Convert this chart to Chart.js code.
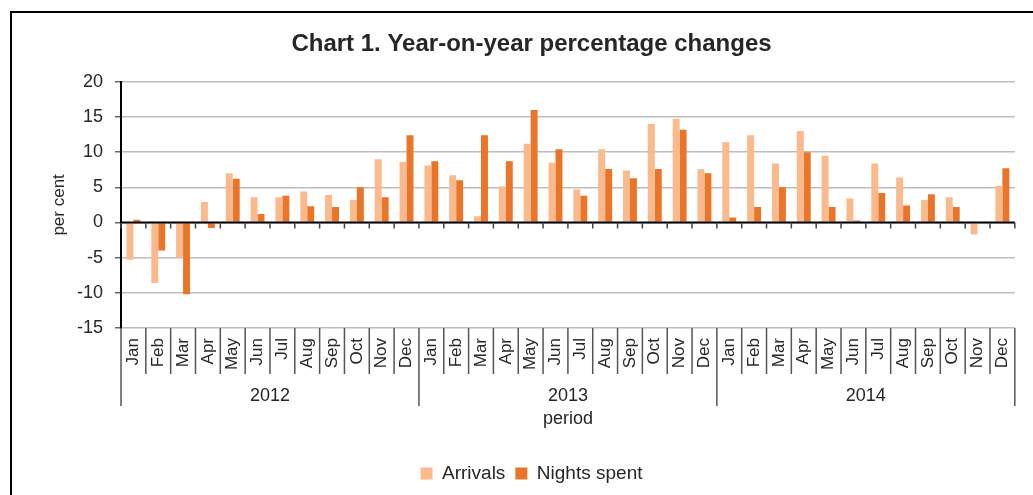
<!DOCTYPE html>
<html>
<head>
<meta charset="utf-8">
<script src="https://cdn.jsdelivr.net/npm/chart.js@4.4.1/dist/chart.umd.min.js"></script>
<style>
  html, body { margin: 0; padding: 0; background: #fff; overflow: hidden; }
  #frame { position: absolute; left: 10px; top: 11px; width: 1200px; height: 700px; border: 2px solid #000; }
  #wrap { position: absolute; left: 0; top: 0; width: 1033px; height: 495px; }
</style>
</head>
<body>
<div id="frame"></div>
<div id="wrap"><canvas id="chart"></canvas></div>
<script>
// data
const years = ['2012', '2013', '2014'];
const months = ['Jan', 'Feb', 'Mar', 'Apr', 'May', 'Jun', 'Jul', 'Aug', 'Sep', 'Oct', 'Nov', 'Dec'];
const arrivals = [
  -5.3, -8.6, -5.0, 2.9, 7.0, 3.6, 3.6, 4.4, 3.9, 3.2, 9.0, 8.6,
  8.1, 6.7, 0.9, 5.1, 11.2, 8.5, 4.7, 10.4, 7.4, 14.0, 14.7, 7.6,
  11.4, 12.4, 8.4, 13.0, 9.5, 3.4, 8.4, 6.4, 3.2, 3.6, -1.7, 5.2
];
const nightsSpent = [
  0.4, -4.0, -10.2, -0.8, 6.2, 1.2, 3.8, 2.3, 2.2, 5.0, 3.6, 12.4,
  8.7, 6.0, 12.4, 8.7, 16.0, 10.4, 3.8, 7.6, 6.3, 7.6, 13.2, 7.0,
  0.7, 2.2, 5.0, 10.0, 2.2, 0.3, 4.2, 2.4, 4.0, 2.2, 0, 7.7
];

const labels = years.flatMap(() => months);
const text_color = '#262626';
const fontFamily = '"Liberation Sans", Arial, sans-serif';

// draws the zero axis, the month/year separators and the year labels
const periodAxis = {
  id: 'periodAxis',
  afterDatasetsDraw(chart) {
    const ctx = chart.ctx;
    const x = chart.scales.x;
    const y = chart.scales.y;
    const n = labels.length;
    const catW = x.width / n;
    const edge = i => x.getPixelForValue(0) - catW / 2 + i * catW;
    const y0 = y.getPixelForValue(0);
    const bottom = chart.chartArea.bottom;

    ctx.save();
    // zero line with small ticks
    ctx.strokeStyle = '#000';
    ctx.lineWidth = 2;
    ctx.beginPath();
    ctx.moveTo(chart.chartArea.left, y0);
    ctx.lineTo(chart.chartArea.right, y0);
    ctx.stroke();
    ctx.strokeStyle = '#444';
    ctx.lineWidth = 1.5;
    ctx.beginPath();
    for (let i = 0; i <= n; i++) {
      ctx.moveTo(edge(i), y0);
      ctx.lineTo(edge(i), y0 + 6);
    }
    ctx.stroke();

    // separators below the plot
    ctx.strokeStyle = '#555';
    ctx.beginPath();
    for (let i = 0; i <= n; i++) {
      const isYear = i % months.length === 0;
      ctx.moveTo(edge(i), bottom);
      ctx.lineTo(edge(i), bottom + (isYear ? 78 : 46));
    }
    ctx.stroke();

    // year labels
    ctx.fillStyle = text_color;
    ctx.font = '18px ' + fontFamily;
    ctx.textAlign = 'center';
    ctx.textBaseline = 'middle';
    years.forEach((yr, k) => {
      const cx = (edge(k * 12) + edge(k * 12 + 12)) / 2;
      ctx.fillText(yr, cx, bottom + 68);
    });
    ctx.restore();
  }
};

const ctx = document.getElementById('chart');
new Chart(ctx, {
  type: 'bar',
  data: {
    labels: labels,
    datasets: [{
      label: 'Arrivals',
      data: arrivals,
      backgroundColor: '#fcb98b',
      categoryPercentage: 0.56,
      barPercentage: 1.0,
    }, {
      label: 'Nights spent',
      data: nightsSpent,
      backgroundColor: '#ea7428',
      categoryPercentage: 0.56,
      barPercentage: 1.0,
    }]
  },
  options: {
    responsive: true,
    maintainAspectRatio: false,
    animation: false,
    layout: {
      padding: { top: 0, left: 45, right: 15, bottom: 2 }
    },
    plugins: {
      title: {
        display: true,
        text: 'Chart 1. Year-on-year percentage changes',
        color: text_color,
        font: { family: fontFamily, size: 24, weight: 'bold' },
        padding: { top: 30, bottom: 23 }
      },
      legend: {
        display: true,
        position: 'bottom',
        labels: {
          color: text_color,
          font: { family: fontFamily, size: 19 },
          boxWidth: 12,
          boxHeight: 12,
          padding: 10
        }
      },
      tooltip: { enabled: false }
    },
    scales: {
      x: {
        grid: { display: false, drawTicks: false },
        border: { display: false },
        ticks: {
          color: text_color,
          font: { family: fontFamily, size: 17 },
          minRotation: 90,
          maxRotation: 90,
          autoSkip: false,
          padding: 10
        },
        title: {
          display: true,
          text: 'period',
          color: text_color,
          font: { family: fontFamily, size: 18 },
          padding: { top: 0, bottom: 24 }
        },
        afterFit: scale => { scale.height = 126; }
      },
      y: {
        min: -15,
        max: 20,
        grid: {
          color: '#bdbdbd',
          lineWidth: 1.5,
          tickLength: 6,
          tickColor: '#666'
        },
        border: { display: true, color: '#000', width: 2 },
        ticks: {
          stepSize: 5,
          color: text_color,
          font: { family: fontFamily, size: 18 },
          padding: 12
        },
        title: {
          display: true,
          text: 'per cent',
          color: text_color,
          font: { family: fontFamily, size: 17 },
          padding: { top: 4, bottom: 0 }
        },
        afterFit: scale => { scale.width = 76; }
      }
    }
  },
  plugins: [periodAxis]
});
</script>
</body>
</html>
